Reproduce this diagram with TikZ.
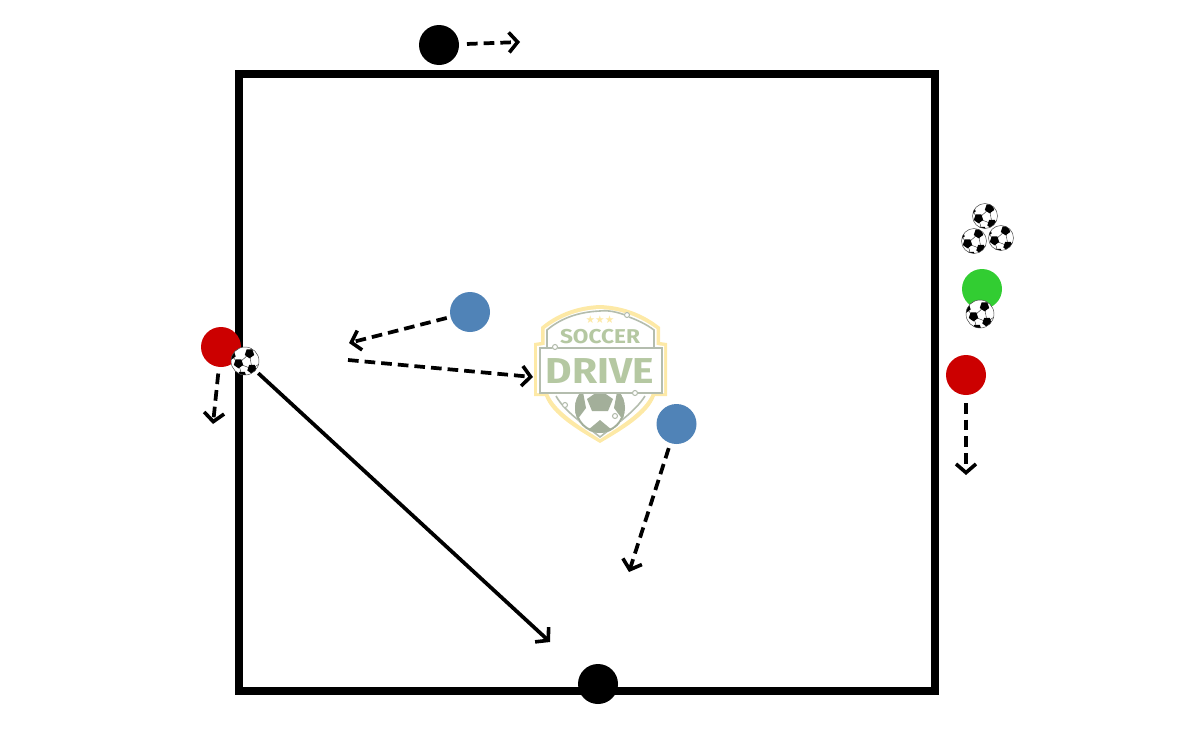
\documentclass[tikz,border=0pt]{standalone}
\usepackage{fontspec}
\setmainfont{Fira Sans}
\usetikzlibrary{arrows.meta}
\definecolor{bluep}{HTML}{5083B7}
\definecolor{redp}{HTML}{CC0000}
\definecolor{greenp}{HTML}{32CD32}
\definecolor{logoY}{HTML}{FDE9A6}
\definecolor{logoG}{HTML}{B5C8A2}
\definecolor{logoD}{HTML}{B4BDAE}
\definecolor{logoB}{HTML}{A3AF9A}
\newcommand{\penta}[3]{\fill[black,rotate around={#3:(#1,#2)}] (#1,#2) ++(90:4.9) -- ++(-36:5.8) -- ++(-108:5.8) -- ++(-180:5.8) -- ++(108:5.8) -- cycle;}
\tikzset{
  x=0.75pt,y=-0.75pt,
  player/.style={circle,fill=#1,minimum size=30pt,inner sep=0pt,outer sep=0pt},
  ball/.style={circle,draw=black!75,line width=0.35pt,fill=white,minimum size=0.75*#1 pt,inner sep=0pt,outer sep=0pt,
    path picture={\begin{scope}[shift={(path picture bounding box.center)},scale=#1/28]
      \penta{4.5}{-7.5}{10}\penta{-6.5}{2.5}{-20}\penta{7}{8}{30}\penta{-3}{15}{0}\penta{-14}{-6}{40}
      \draw[line width=0.25pt,black] (4.5,-7.5)--(-6.5,2.5)--(7,8)--cycle (-3,15)--(-6.5,2.5)--(-14,-6) (4.5,-7.5)--(7,-14) (7,8)--(14,3);
    \end{scope}}},
  run/.style={line width=2.8pt,dash pattern=on 8pt off 4.5pt,-{Straight Barb[length=6.5pt,width=15pt,line width=2.7pt]}},
  pass/.style={line width=2.8pt,-{Straight Barb[length=6.5pt,width=15pt,line width=2.7pt]}},
  frame/.style={line width=6pt,draw=black,miter limit=10},
  logotext/.style={inner sep=0pt,text=logoG,font=\bfseries}
}
\begin{document}
\begin{tikzpicture}
\useasboundingbox (0,0) rectangle (1200,750);
% logo
\fill[logoY] (600,305) .. controls (575,306) and (555,315) .. (541,327) -- (541,342) -- (534,343) -- (534,396) -- (545,396) .. controls (552,415) and (578,430) .. (600,443) .. controls (622,430) and (648,415) .. (655,396) -- (667,396) -- (667,343) -- (660,342) -- (660,327) .. controls (645,315) and (625,306) .. (600,305) -- cycle;
\fill[white] (600,309) .. controls (577,310) and (559,318) .. (544.5,329) -- (544.5,345) -- (537,346) -- (537,393) -- (548,393) .. controls (555,411) and (580,426) .. (600,439) .. controls (620,426) and (645,411) .. (652,393) -- (664,393) -- (664,346) -- (656.5,345) -- (656.5,329) .. controls (641,318) and (623,310) .. (600,309) -- cycle;
\draw[logoD,line width=1.2pt] (625,315) .. controls (617,312) and (608,310) .. (600,311) .. controls (577,312) and (560,319) .. (547,330) -- (547,347) (629,317) .. controls (637,320) and (646,324) .. (654,330) -- (654,347) (556,396) .. controls (565,412) and (585,425) .. (600,437) .. controls (615,425) and (635,412) .. (645,396);
\begin{scope}
\clip (600,408) circle (25);
\fill[white] (600,408) circle (25);
\fill[logoB] (600,390) -- (613,399) -- (608,411) -- (592,411) -- (587,399) -- cycle;
\fill[logoB] (575,394) -- (583,392) -- (586,408) -- (577,420) -- (574,420) -- cycle;
\fill[logoB] (625,394) -- (617,392) -- (614,408) -- (623,420) -- (626,420) -- cycle;
\fill[logoB] (588,430) -- (600,420) -- (612,430) -- (606,436) -- (594,436) -- cycle;
\draw[logoB,line width=1.5pt] (600,408) circle (24);
\end{scope}
\draw[logoD,line width=1.2pt,fill=white] (540,348) rectangle (662,393);
\foreach \a/\b in {627/315,555/347,635/393,565/405,615/416}{
  \fill[white] (\a,\b) circle (3); \draw[logoD,line width=0.8pt] (\a,\b) circle (2.5);}
\node[logotext,font=\bfseries\fontsize{15pt}{15pt}\selectfont,xscale=1.13] (soccer) at (600,337) {SOCCER};
\node[logotext,font=\bfseries\fontsize{27pt}{27pt}\selectfont,xscale=1.13] (drive) at (600,371) {DRIVE};
\node[inner sep=0pt,text=logoY,font=\fontsize{8pt}{8pt}\selectfont] (stars) at (600,320) {\fontspec{DejaVu Sans}★★★};
% frame
\draw[frame] (239,74) rectangle (935,690.5);
% players
\node[player=black] (topk) at (439,45) {};
\node[player=black] (botk) at (598,684) {};
\node[player=bluep] (blueA) at (470,312) {};
\node[player=bluep] (blueB) at (676.5,424) {};
\node[player=redp] (redL) at (221,347) {};
\node[player=redp] (redR) at (966,375) {};
\node[player=greenp] (green) at (982,289) {};
% balls
\node[ball=28] (ballL) at (245,361) {};
\node[ball=25] (ball1) at (985,216) {};
\node[ball=25] (ball2) at (974,241) {};
\node[ball=25] (ball3) at (1001,238) {};
\node[ball=28] (ball4) at (980,314) {};
% free ends
\coordinate (e1) at (520,42);
\coordinate (e2) at (349,343);
\coordinate (s3) at (348,360);
\coordinate (e3) at (533,377);
\coordinate (e4) at (629,572);
\coordinate (e5) at (213,424);
\coordinate (e6) at (966,475);
\coordinate (e7) at (550,642);
% connectors
\draw[run,shorten <=6pt] (topk) -- (e1);
\draw[run,shorten <=3pt] (blueA) -- (e2);
\draw[run] (s3) -- (e3);
\draw[run,shorten <=4pt] (blueB) -- (e4);
\draw[run,shorten <=5pt] (redL) -- (e5);
\draw[run,shorten <=6pt] (redR) -- (e6);
\draw[pass,shorten <=3pt] (ballL) -- (e7);
\end{tikzpicture}
\end{document}
